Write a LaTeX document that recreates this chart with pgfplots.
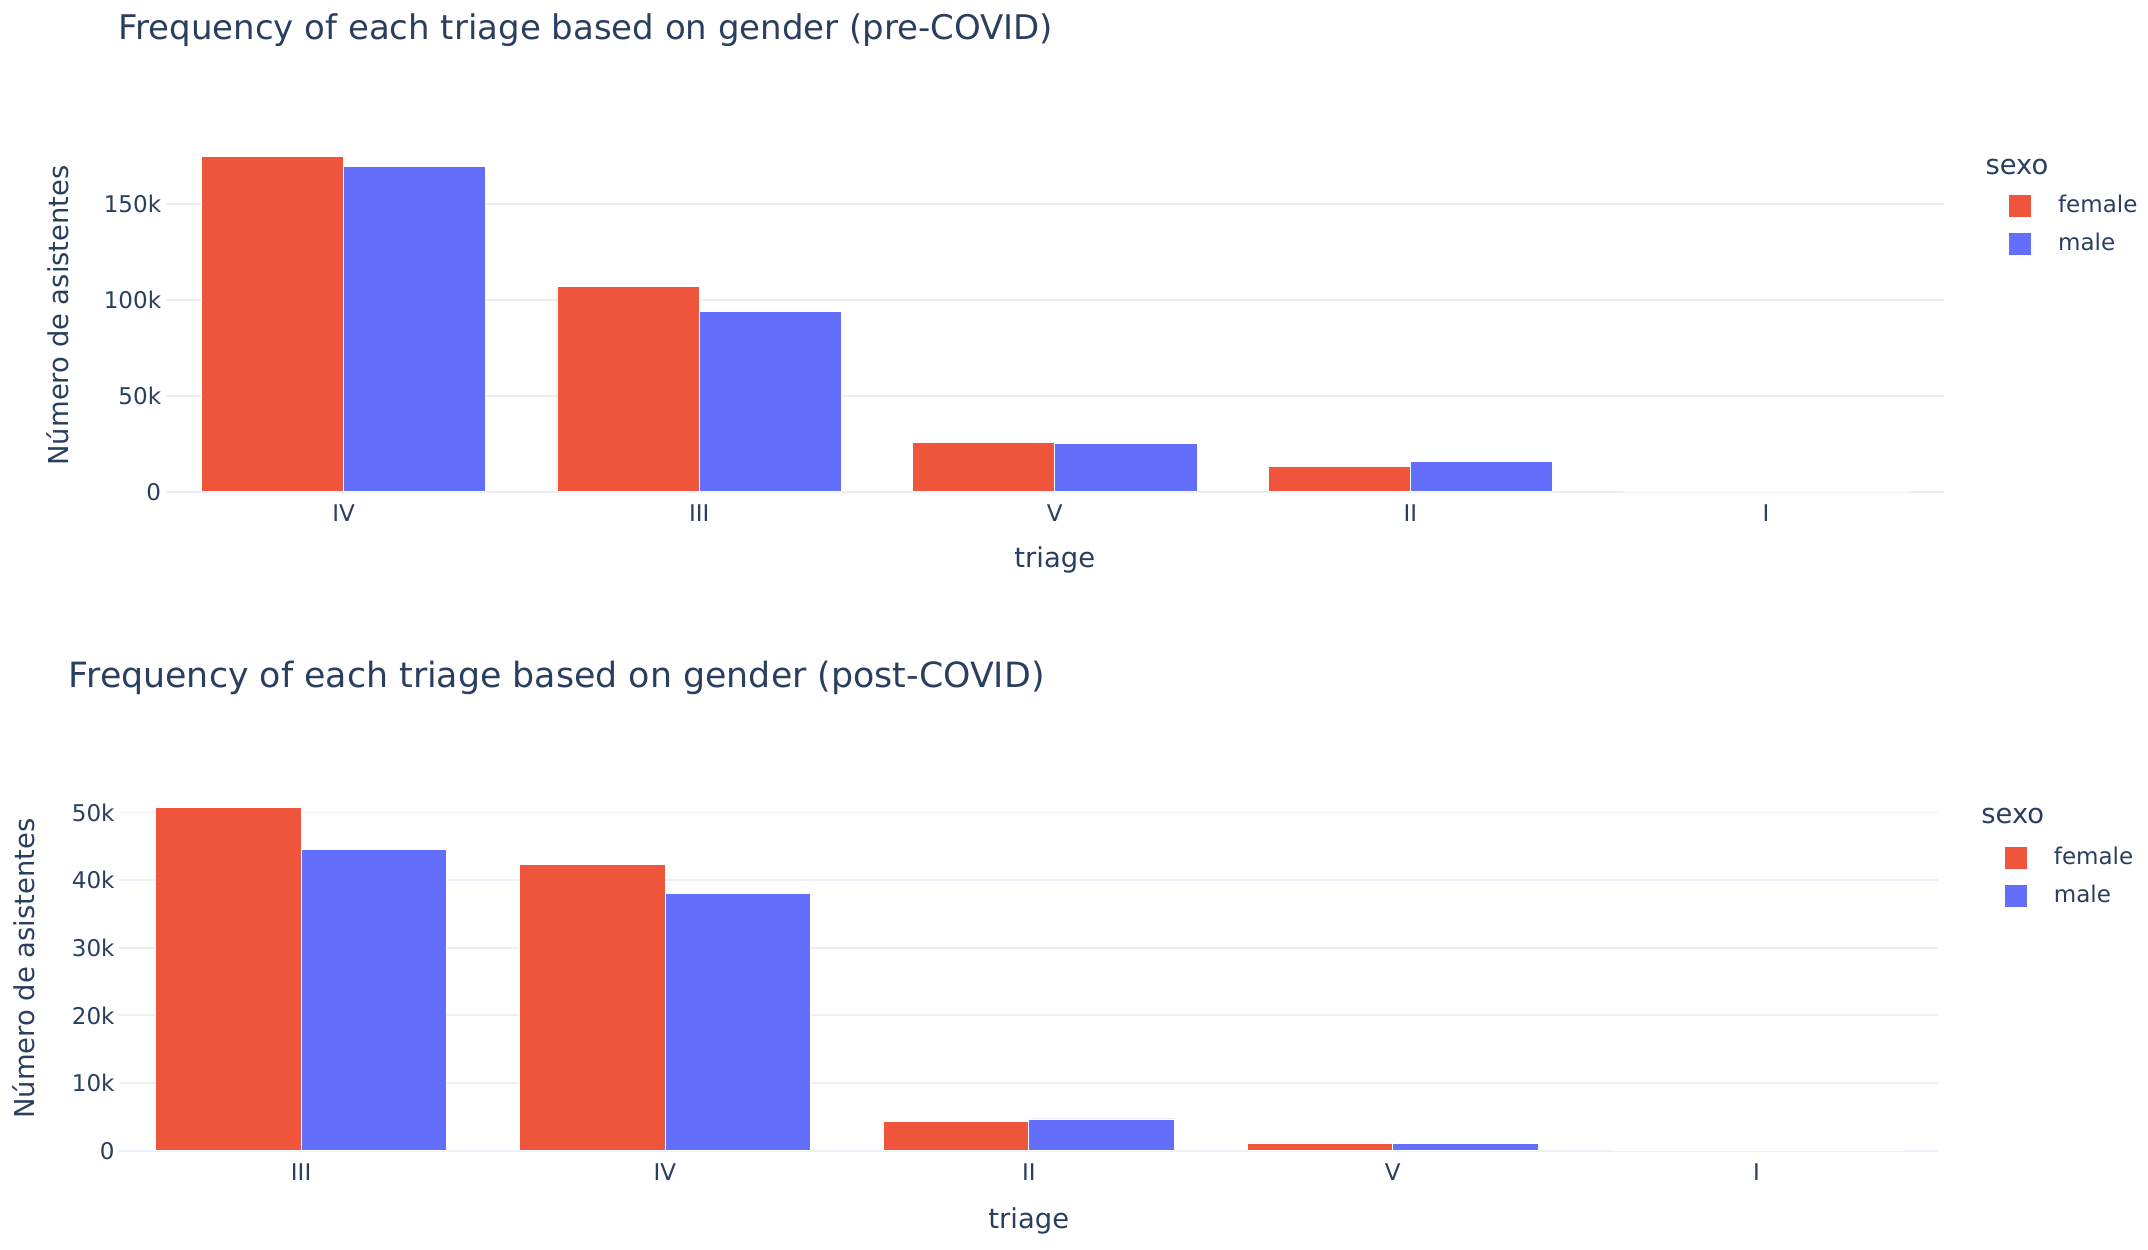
\documentclass[border=0pt]{standalone}
\usepackage{fontspec}
\setmainfont{DejaVu Sans}
\usepackage{pgfplots}
\pgfplotsset{compat=1.18}

\definecolor{female}{HTML}{EF553B}
\definecolor{male}{HTML}{636EFA}
\definecolor{gridc}{HTML}{EBF0F8}
\definecolor{txt}{HTML}{2A3F5F}

\pgfplotsset{
  triagebars/.style={
    scale only axis,
    ybar=0pt, bar width=0.4,
    xmin=-0.5, xmax=4.5, ymin=0,
    xtick={0,...,4},
    scaled y ticks=false,
    axis line style={draw=none},
    major tick length=0pt,
    ymajorgrids,
    grid style={gridc, line width=0.7pt},
    clip=false,
    tick label style={font=\fontsize{8.4}{10}\selectfont, color=txt},
    yticklabel style={inner sep=1.5pt},
    xticklabel style={inner sep=4.5pt},
    label style={font=\fontsize{10}{12}\selectfont, color=txt},
    title style={color=txt, anchor=west, inner sep=0pt},
    /pgf/number format/assume math mode=true,
    legend cell align=left,
    legend image code/.code={\fill[##1, draw=none] (0pt,-4pt) rectangle (8pt,4pt);},
    legend style={draw=none, fill=none, anchor=north west, inner sep=0pt,
      font=\fontsize{8.4}{10}\selectfont, text=txt, row sep=2pt,
      /tikz/column sep=8pt},
    every axis plot/.append style={draw=white, line width=0.3pt},
  }
}

\begin{document}
\begin{tikzpicture}
\path[use as bounding box] (0,0) rectangle (784pt,456pt);

% pre-COVID
\begin{axis}[triagebars,
  at={(60.5pt,276.5pt)}, anchor=south west,
  width=649pt, height=128.8pt,
  ymax=184000,
  ytick={0,50000,100000,150000},
  yticklabels={0,50k,100k,150k},
  xticklabels={IV,III,V,II,I},
  title={Frequency of each triage based on gender (pre-COVID)},
  title style={at={(axis description cs:-0.027,1.262)}, font=\fontsize{12.4}{14}\selectfont},
  xlabel={triage},
  xlabel style={at={(axis description cs:0.5,-0.194)}, anchor=center},
  ylabel={Número de asistentes},
  ylabel style={at={(axis description cs:-0.0609,0.5)}, anchor=center},
  legend style={at={(axis description cs:1.0362,0.858)}},
]
\addplot[fill=female] coordinates {(0,174800) (1,106900) (2,25500) (3,13400) (4,300)};
\addplot[fill=male] coordinates {(0,169700) (1,94000) (2,25000) (3,15800) (4,350)};
\addlegendentry{female}
\addlegendentry{male}
\node[anchor=west, inner sep=0pt, font=\fontsize{10}{12}\selectfont, text=txt]
  at (axis description cs:1.0231,0.92) {sexo};
\end{axis}

% post-COVID
\begin{axis}[triagebars,
  at={(43.5pt,36pt)}, anchor=south west,
  width=664pt, height=132.1pt,
  ymax=53500,
  ytick={0,10000,20000,30000,40000,50000},
  yticklabels={0,10k,20k,30k,40k,50k},
  xticklabels={III,IV,II,V,I},
  title={Frequency of each triage based on gender (post-COVID)},
  title style={at={(axis description cs:-0.0279,1.26)}, font=\fontsize{12.7}{14}\selectfont},
  xlabel={triage},
  xlabel style={at={(axis description cs:0.5,-0.193)}, anchor=center},
  ylabel={Número de asistentes},
  ylabel style={at={(axis description cs:-0.0527,0.503)}, anchor=center},
  legend style={at={(axis description cs:1.0361,0.855)}},
]
\addplot[fill=female] coordinates {(0,50800) (1,42300) (2,4300) (3,1100) (4,30)};
\addplot[fill=male] coordinates {(0,44600) (1,38000) (2,4700) (3,1050) (4,30)};
\addlegendentry{female}
\addlegendentry{male}
\node[anchor=west, inner sep=0pt, font=\fontsize{10}{12}\selectfont, text=txt]
  at (axis description cs:1.0233,0.9236) {sexo};
\end{axis}
\end{tikzpicture}
\end{document}
